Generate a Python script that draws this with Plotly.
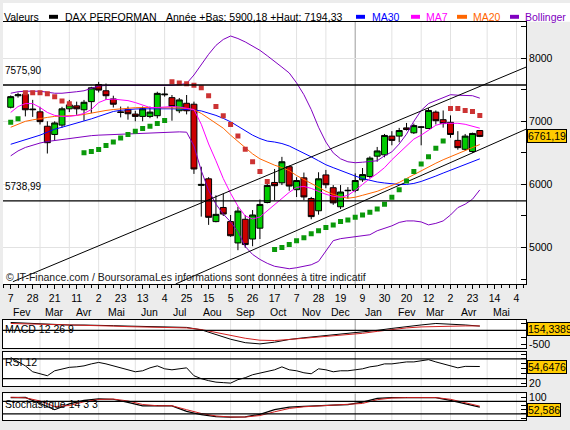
import plotly.graph_objects as go

W, H = 570, 430

# ---------------- data (weekly bars, index 0 = week of 7 Feb 2011) ----------------
week_idx = list(range(65))
opens = [7223, 7405, 7427, 7195, 7150, 6922, 6792, 6940, 7198, 7245,
         7183, 7312, 7583, 7484, 7355, 7150, 7183, 7115, 7078, 7078,
         7089, 7420, 7375, 7167, 7286, 7271, 5985, 6089, 5411, 5635,
         5411, 5073, 5448, 5135, 5307, 5714, 6031, 6026, 6281, 5917,
         6104, 5777, 5583, 6151, 5948, 5646, 5900, 5906, 6073, 6125,
         6448, 6469, 6766, 6766, 6896, 6818, 6905, 6886, 7146, 7026,
         6984, 6698, 6557, 6521, 6854]
highs = [7410, 7455, 7480, 7340, 7230, 7000, 7000, 7230, 7339, 7312,
         7339, 7547, 7625, 7599, 7406, 7234, 7234, 7167, 7234, 7234,
         7469, 7547, 7417, 7370, 7417, 7312, 6281, 6115, 5828, 5854,
         5516, 5646, 5516, 5594, 5761, 6031, 6245, 6437, 6300, 6115,
         6188, 5802, 6193, 6230, 5990, 5990, 5958, 6175, 6260, 6445,
         6594, 6800, 6844, 6896, 6974, 6964, 6922, 7208, 7172, 7172,
         7094, 6844, 6800, 6820, 6860]
lows = [7205, 7375, 7078, 7070, 6950, 6490, 6690, 6900, 7146, 7104,
        7010, 7130, 7458, 7339, 7219, 7062, 7026, 7000, 7000, 7050,
        7047, 7391, 7010, 7130, 7110, 6167, 5490, 5359, 5400, 5500,
        5170, 4958, 4995, 5021, 5135, 5700, 5750, 5990, 5900, 5800,
        5750, 5448, 5521, 5940, 5677, 5610, 5776, 5875, 6040, 6104,
        6360, 6430, 6620, 6667, 6854, 6800, 6620, 6880, 6950, 6900,
        6740, 6550, 6531, 6500, 6750]
closes = [7391, 7420, 7183, 7185, 6995, 6661, 6974, 7198, 7260, 7198,
          7302, 7531, 7495, 7406, 7271, 7140, 7120, 7078, 7198, 7146,
          7443, 7430, 7234, 7339, 7167, 6245, 6000, 5479, 5526, 5531,
          5187, 5578, 5047, 5516, 5683, 5984, 5980, 6359, 5974, 6062,
          5802, 5490, 6089, 5995, 5708, 5880, 5906, 6062, 6156, 6417,
          6531, 6776, 6698, 6854, 6870, 6932, 6911, 7172, 7010, 6964,
          6792, 6583, 6766, 6808, 6761.19]

ma7 = [7141, 7234, 7281, 7281, 7219, 7141, 7094, 7078, 7078, 7094,
       7125, 7187, 7297, 7344, 7352, 7344, 7328, 7297, 7258, 7219,
       7219, 7227, 7234, 7227, 7211, 7187, 6953, 6641, 6375, 6094,
       5859, 5656, 5500, 5453, 5484, 5578, 5687, 5781, 5875, 5953,
       5969, 5937, 5891, 5844, 5812, 5797, 5828, 5906, 6000, 6094,
       6172, 6266, 6391, 6500, 6625, 6719, 6781, 6859, 6937, 6969,
       6973, 6969, 6953, 6922, 6891]
ma20 = [6906, 6953, 7000, 7023, 7047, 7062, 7078, 7083, 7086, 7094,
        7109, 7133, 7156, 7172, 7187, 7198, 7211, 7216, 7219, 7219,
        7219, 7219, 7219, 7211, 7203, 7183, 7125, 7047, 6969, 6891,
        6781, 6687, 6578, 6484, 6406, 6352, 6305, 6266, 6219, 6141,
        6078, 6016, 5953, 5891, 5844, 5805, 5781, 5797, 5828, 5859,
        5891, 5937, 5984, 6031, 6094, 6156, 6219, 6281, 6336, 6391,
        6437, 6484, 6531, 6578, 6633]
ma30 = [6636, 6672, 6703, 6742, 6781, 6828, 6875, 6906, 6937, 6969,
        7000, 7039, 7078, 7117, 7156, 7175, 7188, 7195, 7198, 7200,
        7200, 7200, 7198, 7195, 7190, 7180, 7165, 7135, 7094, 7047,
        6992, 6922, 6852, 6781, 6727, 6687, 6672, 6648, 6609, 6555,
        6500, 6437, 6375, 6312, 6266, 6219, 6172, 6133, 6094, 6062,
        6039, 6023, 6011, 6000, 6000, 6016, 6047, 6086, 6133, 6180,
        6227, 6273, 6320, 6367, 6406]
boll_up = [7445, 7469, 7477, 7477, 7477, 7461, 7445, 7445, 7453, 7469,
           7484, 7523, 7560, 7568, 7568, 7568, 7568, 7568, 7568, 7568,
           7568, 7568, 7570, 7580, 7600, 7734, 7906, 8062, 8203, 8297,
           8352, 8312, 8258, 8187, 8125, 8039, 7953, 7859, 7766, 7609,
           7422, 7187, 6906, 6672, 6500, 6406, 6359, 6344, 6352, 6359,
           6375, 6453, 6516, 6641, 6797, 7000, 7172, 7281, 7328, 7375,
           7422, 7414, 7406, 7406, 7367]
boll_lo = [6453, 6531, 6586, 6625, 6656, 6680, 6695, 6711, 6727, 6750,
           6766, 6773, 6781, 6786, 6792, 6797, 6802, 6808, 6812, 6817,
           6823, 6828, 6831, 6833, 6828, 6609, 6219, 5906, 5687, 5531,
           5406, 5250, 5016, 4891, 4812, 4750, 4703, 4680, 4664, 4680,
           4703, 4727, 4781, 4953, 5109, 5141, 5156, 5172, 5187, 5203,
           5266, 5305, 5344, 5398, 5422, 5422, 5406, 5359, 5383, 5422,
           5516, 5633, 5687, 5766, 5914]
N = None
sar_bull = [6984, 7042, N, N, N, N, N, N, N, N,
            6500, 6523, 6555, 6617, 6672, 6734, 6792, 6844, 6886, 6922,
            6964, 7011, N, N, N, N, N, N, N, N,
            N, N, N, N, N, N, 4969, 5000, 5047, 5109,
            5156, 5219, 5266, 5317, 5359, 5411, 5437, 5480, 5516, 5558,
            5609, 5687, 5797, 5917, 6055, 6203, 6323, 6437, 6573, 6687,
            N, N, N, N, N]
sar_bear = [N, N, 7453, 7453, 7453, 7437, 7391, 7323, 7277, N,
            N, N, N, N, N, N, N, N, N, N,
            N, N, 7625, 7609, 7594, 7573, 7531, 7406, 7234, 7089,
            6948, 6766, 6558, 6359, 6203, 6047, N, N, N, N,
            N, N, N, N, N, N, N, N, N, N,
            N, N, N, N, N, N, N, N, N, N,
            7203, 7203, 7172, 7156, 7094]

ind_idx = list(range(0, 65, 2))
macd_line = [286, 262, 232, 200, 193, 193, 193, 170, 155, 143, 130, 118, 107,
             20, -161, -321, -446, -490, -428, -330, -268, -214, -178, -125,
             -71, 0, 71, 143, 196, 250, 232, 196, 154.3389]
macd_signal = [250, 240, 225, 214, 200, 190, 178, 155, 135, 125, 112, 100, 89,
               30, -71, -178, -286, -357, -368, -330, -286, -250, -214, -178,
               -107, -36, 36, 89, 125, 143, 161, 161, 161]
rsi_line = [73, 64, 56, 44, 40, 36, 46, 50, 53, 54,
            56, 60, 63, 60, 56, 52, 48, 44, 46, 52,
            56, 50, 48, 50, 52, 36, 30, 26, 23, 22,
            21, 28, 32, 38, 41, 44, 48, 54, 48, 46,
            42, 40, 50, 48, 44, 46, 46, 48, 50, 54,
            56, 60, 60, 62, 64, 64, 66.6, 68.6, 64, 60,
            55.4, 52, 55, 55.4, 54.6476]
stoch_k = [98, 99, 70, 40, 68, 85, 92, 90, 75, 58, 60, 58, 32,
           16, 7, 4, 6, 18, 40, 52, 56, 60, 62, 64, 76,
           94, 98, 98, 98, 98, 85, 69, 52.586]
stoch_d = [100, 97, 82, 55, 60, 78, 89, 91, 82, 65, 59, 59, 40,
           22, 10, 5, 5, 12, 30, 46, 54, 58, 61, 63, 70,
           88, 96, 98, 98, 98, 90, 74, 57]

tick_idx = list(range(0, 70, 3))
tick_days = ["7", "28", "21", "11", "2", "23", "13", "4", "25", "15", "5", "26",
             "17", "7", "28", "19", "9", "30", "20", "12", "2", "23", "14", "4"]
month_start_idx = [4, 8, 12, 17, 21, 25, 30, 34, 39, 43, 47, 52, 56, 60, 65, 69]
month_names = ["Fev", "Mar", "Avr", "Mai", "Jun", "Jul", "Aou", "Sep", "Oct",
               "Nov", "Dec", "Jan", "Fev", "Mar", "Avr", "Mai"]
year_sep_idx = 47
levels = [7575.90, 5738.99]
level_labels = ["7575,90", "5738,99"]
trend_up_x = [0.3, 70.3]
trend_up_y = [4459, 7859]
trend_lo_x = [22.5, 70.3]
trend_lo_y = [4422, 6875]
macd_levels = [0]
rsi_levels = [70, 30]
stoch_levels = [80, 20]
last_close = 6761.19
last_macd = 154.3389
last_rsi = 54.6476
last_stoch = 52.586

# ---------------- styling / layout helpers ----------------
def px(x):
    return x / W


def py(y):
    return 1 - y / H


FONT = "Liberation Sans, Arial, sans-serif"
BLUE, MAGENTA, ORANGE, PURPLE = "#0000ff", "#ff00ff", "#ff6600", "#8000c0"
GREEN_C, RED_C = "#00cc00", "#cc0000"
SAR_G, SAR_R = "#0a990a", "#cc3333"
GRID = "#e2e2e2"
X0, X1 = -1.05, 70.3
XL, XR = 3, 526
panels = {  # yaxis name: (top px, bottom px)
    "y": (19, 285),
    "y2": (321, 350),
    "y3": (354, 388.3),
    "y4": (396, 423.3),
}

fig = go.Figure()

# Bollinger & moving averages
for ys, col in [(boll_up, PURPLE), (boll_lo, PURPLE), (ma30, BLUE), (ma20, ORANGE), (ma7, MAGENTA)]:
    fig.add_trace(go.Scatter(x=week_idx, y=ys, mode="lines", line=dict(color=col, width=1),
                             hoverinfo="skip"))
# channel trend lines
for tx, ty in [(trend_up_x, trend_up_y), (trend_lo_x, trend_lo_y)]:
    fig.add_trace(go.Scatter(x=tx, y=ty, mode="lines", line=dict(color="black", width=1),
                             hoverinfo="skip"))
# parabolic SAR
fig.add_trace(go.Scatter(x=week_idx, y=sar_bull, mode="markers",
                         marker=dict(symbol="square", size=5, color=SAR_G, line=dict(width=0))))
fig.add_trace(go.Scatter(x=week_idx, y=sar_bear, mode="markers",
                         marker=dict(symbol="square", size=5, color=SAR_R, line=dict(width=0))))
# candles
fig.add_trace(go.Candlestick(
    x=week_idx, open=opens, high=highs, low=lows, close=closes, whiskerwidth=0,
    increasing=dict(line=dict(color="black", width=1), fillcolor=GREEN_C),
    decreasing=dict(line=dict(color="black", width=1), fillcolor=RED_C)))

# indicator panels
fig.add_trace(go.Scatter(x=ind_idx, y=macd_line, mode="lines", line=dict(color="black", width=1),
                         xaxis="x2", yaxis="y2"))
fig.add_trace(go.Scatter(x=ind_idx, y=macd_signal, mode="lines", line=dict(color="#d02020", width=1),
                         xaxis="x2", yaxis="y2"))
fig.add_trace(go.Scatter(x=week_idx, y=rsi_line, mode="lines", line=dict(color="black", width=1),
                         xaxis="x3", yaxis="y3"))
fig.add_trace(go.Scatter(x=ind_idx, y=stoch_k, mode="lines", line=dict(color="black", width=1.2),
                         xaxis="x4", yaxis="y4"))
fig.add_trace(go.Scatter(x=ind_idx, y=stoch_d, mode="lines", line=dict(color="#d02020", width=1),
                         xaxis="x4", yaxis="y4"))

# ---------------- shapes ----------------
shapes = []
# white header band
shapes.append(dict(type="rect", xref="paper", yref="paper", x0=px(XL), x1=1, y0=py(19), y1=1,
                   fillcolor="white", line=dict(width=0), layer="below"))
# month grid lines and year separator in every panel
for yname in panels:
    for m in month_start_idx:
        shapes.append(dict(type="line", xref="x", yref=yname + " domain", x0=m, x1=m, y0=0, y1=1,
                           line=dict(color=GRID, width=1), layer="below"))
    shapes.append(dict(type="line", xref="x", yref=yname + " domain", x0=year_sep_idx,
                       x1=year_sep_idx, y0=0, y1=1, line=dict(color="#a8a8a8", width=1),
                       layer="below"))
# horizontal support / resistance levels
for lv in levels:
    shapes.append(dict(type="line", xref="x domain", yref="y", x0=0, x1=1, y0=lv, y1=lv,
                       line=dict(color="black", width=1.4)))
for yname, lvls in [("y2", macd_levels), ("y3", rsi_levels), ("y4", stoch_levels)]:
    for lv in lvls:
        shapes.append(dict(type="line", xref="x domain", yref=yname, x0=0, x1=1, y0=lv, y1=lv,
                           line=dict(color="black", width=1.2)))
# header legend swatches
for x0, x1, col in [(49, 58, "black"), (356, 365, BLUE), (411, 420, MAGENTA),
                    (457, 467, ORANGE), (510, 519, PURPLE)]:
    shapes.append(dict(type="rect", xref="paper", yref="paper", x0=px(x0), x1=px(x1),
                       y0=py(16), y1=py(12), fillcolor=col, line=dict(width=0)))

# ---------------- annotations ----------------
ann = []


def text(x, y, s, color="black", size=10.5):
    ann.append(dict(x=px(x), y=py(y), xref="paper", yref="paper", xanchor="left",
                    yanchor="middle", text=s, showarrow=False,
                    font=dict(family=FONT, size=size, color=color)))


text(2, 14, "Valeurs")
text(63, 14, "DAX PERFORMAN")
text(164, 14, "Année +Bas: 5900,18 +Haut: 7194,33")
text(370, 14, "MA30", BLUE)
text(424, 14, "MA7", MAGENTA)
text(471, 14, "MA20", ORANGE)
text(523, 14, "Bollinger", PURPLE)
text(4, 278, "© IT-Finance.com / BoursoramaLes informations sont données à titre indicatif",
     "#202020")
for lv, lab in zip(levels, level_labels):
    ann.append(dict(x=px(3), xref="paper", y=lv, yref="y", yshift=7, xanchor="left",
                    yanchor="bottom", text=lab, showarrow=False,
                    font=dict(family=FONT, size=10, color="black")))
text(3, 331, "MACD 12 26 9")
text(3, 364, "RSI 12")
text(3, 407, "Stochastique 14 3 3")

# month names centred between month boundaries
bounds = [X0] + month_start_idx
for k, name in enumerate(month_names):
    ann.append(dict(x=(bounds[k] + bounds[k + 1]) / 2, xref="x", y=py(313), yref="paper",
                    text=name, showarrow=False, xanchor="center", yanchor="middle",
                    font=dict(family=FONT, size=10.5, color="black")))


def fmt(v, nd):
    return f"{v:.{nd}f}".replace(".", ",")


for val, yref, nd, ysh in [(last_close, "y", 2, 0), (last_macd, "y2", 4, -3),
                           (last_rsi, "y3", 4, 0), (last_stoch, "y4", 3, -3)]:
    ann.append(dict(x=px(527), xref="paper", xanchor="left", y=val, yref=yref, yshift=ysh,
                    yanchor="middle", text=fmt(val, nd), showarrow=False, bgcolor="#ffcc00",
                    bordercolor="black", borderwidth=1, borderpad=0,
                    font=dict(family=FONT, size=10.5, color="black")))

# ---------------- axes ----------------
xdom = [px(XL), px(XR)]
common_x = dict(domain=xdom, range=[X0, X1], showgrid=False, zeroline=False,
                showline=True, linecolor="black", linewidth=1, mirror=True)
fig.update_layout(
    width=W, height=H, margin=dict(l=0, r=0, t=0, b=0),
    paper_bgcolor="#ececec", plot_bgcolor="white", showlegend=False,
    font=dict(family=FONT, size=10.5, color="black"),
    boxgap=0.15, boxgroupgap=0.05,
    shapes=shapes, annotations=ann,
    xaxis=dict(**common_x, anchor="y", rangeslider=dict(visible=False),
               tickmode="array", tickvals=tick_idx, ticktext=tick_days,
               ticks="outside", ticklen=4, tickcolor="black",
               minor=dict(dtick=1, tick0=0, ticks="outside", ticklen=3, tickcolor="black"),
               tickfont=dict(size=10.5)),
    xaxis2=dict(**common_x, anchor="y2", matches="x", showticklabels=False, ticks=""),
    xaxis3=dict(**common_x, anchor="y3", matches="x", showticklabels=False, ticks=""),
    xaxis4=dict(**common_x, anchor="y4", matches="x", showticklabels=False, ticks=""),
    yaxis=dict(domain=[py(285), py(19)], range=[4422, 8578], side="right", anchor="x",
               tickmode="array", tickvals=[5000, 6000, 7000, 8000],
               ticktext=["5000", "6000", "7000", "8000"],
               showgrid=True, gridcolor=GRID, zeroline=False,
               showline=True, linecolor="black", ticks="inside", ticklen=5, tickcolor="black",
               minor=dict(dtick=500, tick0=0, ticks="inside", ticklen=5, tickcolor="black")),
    yaxis2=dict(domain=[py(350), py(321)], range=[-643, 393], side="right", anchor="x2",
                tickmode="array", tickvals=[-500], ticktext=["-500"], showgrid=False,
                zeroline=False, showline=True, linecolor="black", mirror=True,
                ticks="inside", ticklen=5, tickcolor="black",
                minor=dict(dtick=250, tick0=0, ticks="inside", ticklen=5, tickcolor="black")),
    yaxis3=dict(domain=[py(388.3), py(354)], range=[15.4, 84], side="right", anchor="x3",
                tickmode="array", tickvals=[20], ticktext=["20"], showgrid=False,
                zeroline=False, showline=True, linecolor="black", mirror=True,
                ticks="inside", ticklen=5, tickcolor="black",
                minor=dict(dtick=10, tick0=0, ticks="inside", ticklen=5, tickcolor="black")),
    yaxis4=dict(domain=[py(423.3), py(396)], range=[-11.2, 117.8], side="right", anchor="x4",
                tickmode="array", tickvals=[100], ticktext=["100"], showgrid=False,
                zeroline=False, showline=True, linecolor="black", mirror=True,
                ticks="inside", ticklen=5, tickcolor="black",
                minor=dict(dtick=20, tick0=0, ticks="inside", ticklen=5, tickcolor="black")),
)

fig.write_html("out.html")
